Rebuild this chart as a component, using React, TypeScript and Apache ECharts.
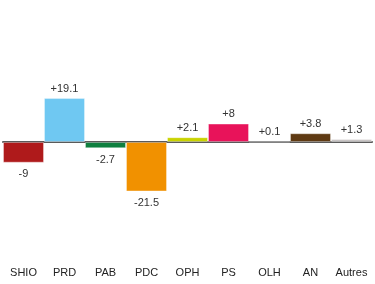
import React, { useEffect, useRef } from "react";
import * as echarts from "echarts";

const categories = ["SHIO", "PRD", "PAB", "PDC", "OPH", "PS", "OLH", "AN", "Autres"];
const values = [-9, 19.1, -2.7, -21.5, 2.1, 8, 0.1, 3.8, 1.3];
const colors = ["#af1a1b", "#6fc8f2", "#0f7f3f", "#f19100", "#c9d300", "#e8135a", "#c8c4c4", "#5f3a13", "#c8c4c4"];

export default function App() {
  const ref = useRef<HTMLDivElement>(null);
  useEffect(() => {
    const chart = echarts.init(ref.current!, null, { renderer: "svg" });
    const k = 2.3;
    chart.setOption({
      animation: false,
      grid: { left: 3, right: 3, top: 142 - 30 * k, height: 80 * k },
      xAxis: [
        {
          type: "category",
          data: categories,
          axisLine: { show: true, onZero: true, lineStyle: { color: "#5a5a5a", width: 2 } },
          axisTick: { show: false },
          axisLabel: { show: false },
        },
        {
          type: "category",
          data: categories,
          position: "bottom",
          axisLine: { show: false, onZero: false },
          axisTick: { show: false },
          axisLabel: { interval: 0, color: "#222", fontSize: 11, fontFamily: "Liberation Sans, Arial, sans-serif", margin: 9 },
        },
      ],
      yAxis: {
        type: "value",
        min: -50,
        max: 30,
        show: false,
        splitLine: { show: false },
      },
      series: [
        {
          type: "bar",
          xAxisIndex: 0,
          barWidth: "100%",
          z: 1,
          data: values.map((v, i) => ({
            value: v,
            itemStyle: { color: colors[i], borderColor: "rgba(255,255,255,0.35)", borderWidth: 1 },
            label: {
              show: true,
              position: v >= 0 ? "top" : "bottom",
              distance: 5,
              formatter: (v > 0 ? "+" : "") + v,
              color: "#333",
              fontSize: 11,
              fontFamily: "Liberation Sans, Arial, sans-serif",
            },
          })),
        },
      ],
    });
    return () => chart.dispose();
  }, []);
  return <div ref={ref} style={{ width: 375, height: 284, position: "fixed", left: 0, top: 0 }} />;
}
